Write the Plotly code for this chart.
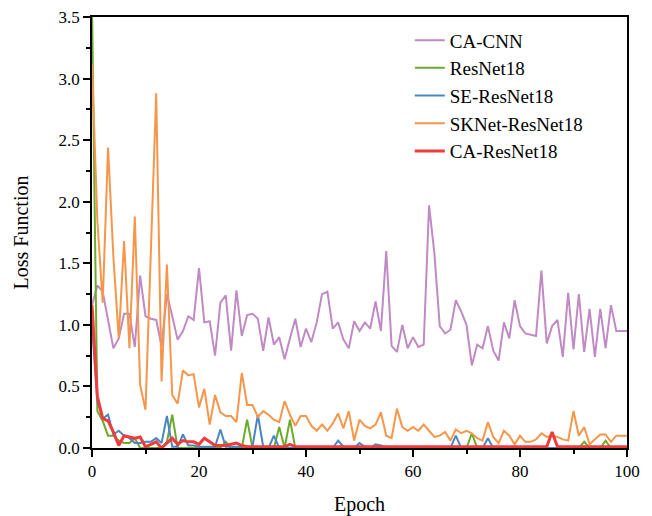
import plotly.graph_objects as go

epochs = list(range(101))

ca_cnn = [1.16, 1.32, 1.27, 1.04, 0.81, 0.89, 1.09, 1.09, 0.82, 1.40,
          1.07, 1.05, 1.04, 0.83, 1.25, 1.07, 0.88, 0.95, 1.07, 1.04,
          1.46, 1.02, 1.03, 0.75, 1.18, 1.24, 0.79, 1.28, 0.91, 1.08,
          1.09, 1.05, 0.79, 1.06, 0.84, 0.90, 0.72, 0.89, 1.05, 0.82,
          0.97, 0.86, 1.02, 1.25, 1.27, 0.97, 1.02, 0.88, 0.81, 1.03,
          0.95, 1.02, 0.97, 1.19, 0.95, 1.60, 0.83, 0.78, 1.00, 0.81,
          0.90, 0.82, 0.84, 1.97, 1.58, 0.99, 0.93, 0.96, 1.20, 1.11,
          1.00, 0.67, 0.84, 0.81, 0.99, 0.79, 0.71, 1.02, 0.89, 1.20,
          0.99, 0.93, 0.92, 0.91, 1.44, 0.85, 0.99, 1.04, 0.74, 1.26,
          0.80, 1.25, 0.78, 1.13, 0.74, 1.13, 0.81, 1.16, 0.95, 0.95,
          0.95]

resnet18 = [3.6, 0.30, 0.22, 0.10, 0.10, 0.06, 0.04, 0.04, 0.08, 0.00,
            0.00, 0.00, 0.00, 0.00, 0.05, 0.27, 0.00, 0.00, 0.00, 0.00,
            0.00, 0.00, 0.00, 0.00, 0.00, 0.05, 0.00, 0.00, 0.00, 0.23,
            0.00, 0.00, 0.00, 0.00, 0.00, 0.17, 0.00, 0.23, 0.00, 0.00,
            0.00, 0.00, 0.00, 0.00, 0.00, 0.00, 0.00, 0.00, 0.00, 0.00,
            0.00, 0.00, 0.00, 0.00, 0.00, 0.00, 0.00, 0.00, 0.00, 0.00,
            0.00, 0.00, 0.00, 0.00, 0.00, 0.00, 0.00, 0.00, 0.00, 0.00,
            0.00, 0.12, 0.00, 0.00, 0.00, 0.00, 0.00, 0.00, 0.00, 0.00,
            0.00, 0.00, 0.00, 0.00, 0.00, 0.00, 0.00, 0.00, 0.00, 0.00,
            0.00, 0.00, 0.05, 0.00, 0.00, 0.00, 0.06, 0.00, 0.00, 0.00,
            0.00]

se_resnet18 = [1.00, 0.38, 0.24, 0.27, 0.11, 0.14, 0.10, 0.08, 0.04, 0.04,
               0.05, 0.05, 0.08, 0.04, 0.26, 0.01, 0.01, 0.11, 0.02, 0.02,
               0.01, 0.01, 0.01, 0.01, 0.15, 0.01, 0.01, 0.01, 0.01, 0.01,
               0.01, 0.27, 0.01, 0.00, 0.10, 0.00, 0.00, 0.00, 0.00, 0.00,
               0.00, 0.00, 0.00, 0.00, 0.00, 0.00, 0.06, 0.01, 0.00, 0.00,
               0.04, 0.01, 0.00, 0.03, 0.02, 0.00, 0.00, 0.00, 0.00, 0.00,
               0.00, 0.00, 0.00, 0.00, 0.00, 0.00, 0.00, 0.00, 0.10, 0.00,
               0.00, 0.00, 0.00, 0.00, 0.08, 0.00, 0.00, 0.00, 0.00, 0.00,
               0.00, 0.00, 0.00, 0.00, 0.00, 0.00, 0.00, 0.00, 0.00, 0.00,
               0.00, 0.00, 0.00, 0.00, 0.00, 0.00, 0.00, 0.00, 0.00, 0.00,
               0.00]

sknet_resnet18 = [3.12, 1.85, 1.18, 2.44, 1.55, 0.89, 1.68, 0.81, 1.88, 0.51,
                  0.31, 1.55, 2.88, 0.54, 1.49, 0.43, 0.36, 0.63, 0.59, 0.60,
                  0.33, 0.48, 0.19, 0.43, 0.29, 0.26, 0.26, 0.21, 0.61, 0.35,
                  0.35, 0.25, 0.30, 0.27, 0.23, 0.21, 0.38, 0.27, 0.18, 0.26,
                  0.26, 0.18, 0.14, 0.19, 0.14, 0.20, 0.28, 0.16, 0.30, 0.06,
                  0.23, 0.18, 0.16, 0.19, 0.29, 0.10, 0.08, 0.32, 0.17, 0.14,
                  0.17, 0.14, 0.19, 0.14, 0.09, 0.10, 0.13, 0.06, 0.15, 0.12,
                  0.14, 0.12, 0.08, 0.06, 0.21, 0.09, 0.04, 0.14, 0.10, 0.03,
                  0.10, 0.05, 0.05, 0.07, 0.12, 0.09, 0.10, 0.09, 0.07, 0.06,
                  0.30, 0.10, 0.17, 0.03, 0.07, 0.11, 0.11, 0.05, 0.10, 0.10,
                  0.10]

ca_resnet18 = [1.16, 0.42, 0.24, 0.22, 0.13, 0.02, 0.10, 0.09, 0.08, 0.09,
               0.01, 0.03, 0.05, 0.00, 0.04, 0.08, 0.03, 0.06, 0.05, 0.05,
               0.03, 0.08, 0.05, 0.02, 0.02, 0.02, 0.03, 0.04, 0.02, 0.01,
               0.01, 0.01, 0.01, 0.01, 0.01, 0.01, 0.01, 0.03, 0.01, 0.01,
               0.01, 0.01, 0.01, 0.01, 0.01, 0.01, 0.01, 0.01, 0.01, 0.01,
               0.01, 0.01, 0.01, 0.01, 0.01, 0.01, 0.01, 0.01, 0.01, 0.01,
               0.01, 0.01, 0.01, 0.01, 0.01, 0.01, 0.01, 0.01, 0.01, 0.01,
               0.01, 0.01, 0.01, 0.01, 0.01, 0.01, 0.01, 0.01, 0.01, 0.01,
               0.01, 0.01, 0.01, 0.01, 0.01, 0.01, 0.13, 0.01, 0.01, 0.01,
               0.01, 0.01, 0.01, 0.01, 0.01, 0.01, 0.01, 0.01, 0.01, 0.01,
               0.01]

names = ["CA-CNN", "ResNet18", "SE-ResNet18", "SKNet-ResNet18", "CA-ResNet18"]
series = [ca_cnn, resnet18, se_resnet18, sknet_resnet18, ca_resnet18]
colors = ["#C08AC4", "#6BAA2C", "#4A86C4", "#F7964A", "#F23B3B"]
widths = [2, 2, 2, 2, 3]

FONT = "Liberation Serif, Times New Roman, serif"

fig = go.Figure()
for name, ys, c, w in zip(names, series, colors, widths):
    fig.add_trace(go.Scatter(x=epochs, y=ys, mode="lines", name=name,
                             line=dict(color=c, width=w)))

axis_common = dict(
    showgrid=False, zeroline=False, showline=True, linecolor="black",
    linewidth=1.5, mirror=True, ticks="outside", ticklen=7, tickwidth=1.5,
    tickcolor="black", tickfont=dict(family=FONT, size=17, color="black"),
    automargin=False, ticklabeloverflow="allow",
)

fig.update_xaxes(range=[0, 100], dtick=20, tick0=0,
                 minor=dict(ticks="outside", ticklen=4, dtick=10, tickwidth=1.5,
                            tickcolor="black"),
                 title=dict(text="Epoch", font=dict(family=FONT, size=20, color="black"),
                            standoff=22),
                 **axis_common)
fig.update_yaxes(range=[0, 3.5], dtick=0.5, tick0=0, tickformat=".1f",
                 minor=dict(ticks="outside", ticklen=4, dtick=0.25, tickwidth=1.5,
                            tickcolor="black"),
                 title=dict(text="Loss Function", font=dict(family=FONT, size=20, color="black"),
                            standoff=25),
                 **axis_common)

# The page body adds an 8px offset, so the figure is sized to fit the window.
fig.update_layout(
    width=644, height=508,
    margin=dict(l=84, r=25, t=9, b=68),
    plot_bgcolor="white", paper_bgcolor="white",
    font=dict(family=FONT, color="black"),
    showlegend=True,
    legend=dict(x=0.594, y=0.99, xanchor="left", yanchor="top",
                bgcolor="rgba(0,0,0,0)", borderwidth=0,
                font=dict(family=FONT, size=19, color="black"),
                tracegroupgap=0),
)

fig.write_html("out.html")
